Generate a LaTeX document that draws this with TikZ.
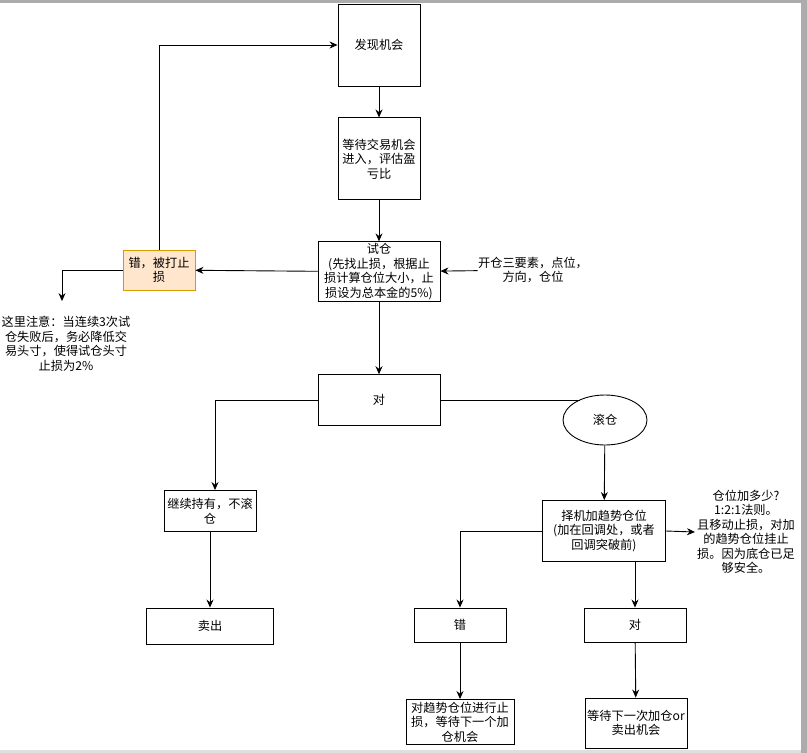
\documentclass[tikz,border=0pt]{standalone}
\usepackage{fontspec}
\setmainfont{Noto Sans CJK SC}
\usetikzlibrary{positioning,arrows.meta,shapes.geometric}
\definecolor{warnfill}{HTML}{FFE6CC}
\definecolor{warndraw}{HTML}{D79B00}

\begin{document}
\begin{tikzpicture}[
    x=1pt, y=-1pt,
    >={Stealth[length=8pt,width=7pt]},
    line width=0.9pt,
    font=\fontsize{12.2}{14.5}\selectfont,
    box/.style={
        draw,
        align=center,
        inner sep=0.5pt
    },
    warnbox/.style={box, fill=warnfill, draw=warndraw},
    note/.style={align=center, inner sep=0pt}
]
    \useasboundingbox (0,0) rectangle (807,753);
    % 截图边框
    \fill[gray!65] (0,0) rectangle (807,2.5);
    \fill[gray!65] (801,0) rectangle (807,753);
    \fill[gray!25] (0,750) rectangle (801,753);

    % 主线
    \node[box, minimum width=82pt, minimum height=82pt] (find) at (379,45) {发现机会};
    \node[box, minimum width=82pt, minimum height=82pt, below=31pt of find] (wait) {等待交易机会\\进入，评估盈\\亏比};
    \node[box, minimum width=122pt, minimum height=60pt, below=41pt of wait] (trial) {试仓\\ (先找止损，根据止\\损计算仓位大小，止\\损设为总本金的5\%)};
    \node[box, minimum width=122pt, minimum height=51pt, below=72pt of trial] (right) {对};

    % 左侧
    \node[warnbox, minimum width=72pt, minimum height=40pt] (wrong) at (159,270) {错，被打止\\损};
    \node[note] (tip) at (66,344) {这里注意：当连续3次试\\仓失败后，务必降低交\\易头寸，使得试仓头寸\\止损为2\%};
    \node[note] (elem) at (533,270) {开仓三要素，点位，\\方向，仓位};
    \node[box, minimum width=92pt, minimum height=41pt] (keep) at (210,511) {继续持有，不滚\\仓};
    \node[box, minimum width=127pt, minimum height=36pt] (sell) at (210,626) {卖出};

    % 滚仓
    \node[draw, ellipse, minimum width=84pt, minimum height=50pt] (roll) at (605,420) {滚仓};
    \node[box, minimum width=123pt, minimum height=61pt] (add) at (604,531) {择机加趋势仓位\\ (加在回调处，或者\\回调突破前)};
    \node[note] (rule) at (746,532) {仓位加多少?\\1:2:1法则。\\且移动止损，对加\\的趋势仓位挂止\\损。因为底仓已足\\够安全。};
    \node[box, minimum width=92pt, minimum height=34pt] (wrong2) at (460,625) {错};
    \node[box, minimum width=102pt, minimum height=34pt] (right2) at (635,625) {对};
    \node[box, minimum width=108pt, minimum height=45pt] (cut) at (460,722) {对趋势仓位进行止\\损，等待下一个加\\仓机会};
    \node[box, minimum width=102pt, minimum height=50pt] (next) at (636,723) {等待下一次加仓or\\卖出机会};

    % 箭头
    \draw[->] (find) -- (wait);
    \draw[->] (wait) -- (trial);
    \draw[->] (elem) -- (trial);
    \draw[->] (trial) -- (wrong);
    \draw[->] (wrong.north) |- (find.west);
    \draw[->] (wrong.west) -| ([xshift=-4pt,yshift=15pt]tip.north);
    \draw[->] (trial) -- (right);
    \draw[->] (right.west) -| ([xshift=5pt]keep.north);
    \draw[->] (keep) -- (sell);
    \draw (right.east) -- (right.east -| roll.140);
    \draw[->] (roll) -- (add);
    \draw[->] (add.east) -- (rule.west -| 695,0);
    \draw[->] (add.west) -| (wrong2.north);
    \draw[->] (add.south -| right2.north) -- (right2.north);
    \draw[->] (wrong2) -- (cut);
    \draw[->] (right2) -- (next);
\end{tikzpicture}
\end{document}
